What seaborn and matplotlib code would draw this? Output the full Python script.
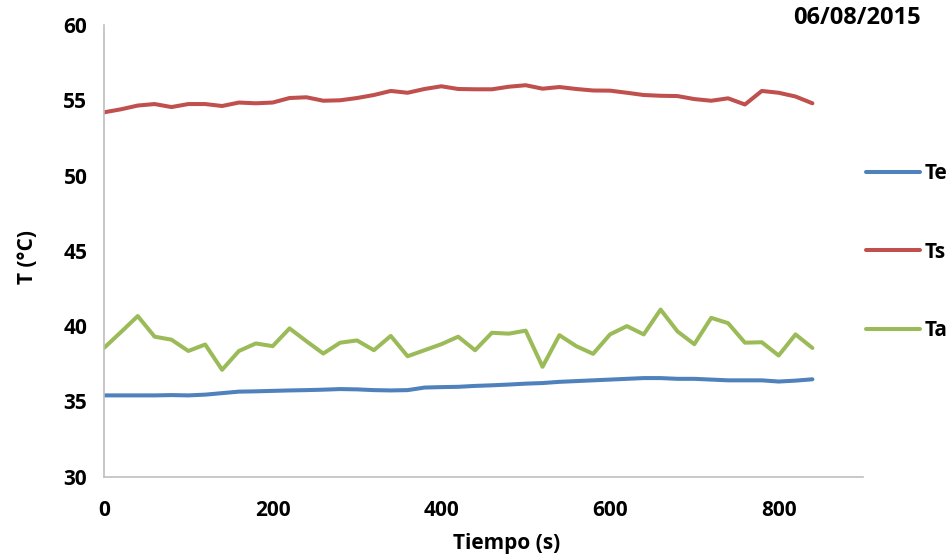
import numpy as np
import pandas as pd
import seaborn as sns
import matplotlib
matplotlib.use("Agg")
import matplotlib.pyplot as plt

# ---- data ----
tiempo = list(range(0, 841, 20))
te = [35.40, 35.40, 35.40, 35.40, 35.42, 35.40, 35.45, 35.55, 35.65, 35.67,
      35.70, 35.73, 35.75, 35.78, 35.82, 35.80, 35.75, 35.73, 35.75, 35.92,
      35.95, 35.97, 36.03, 36.07, 36.12, 36.18, 36.22, 36.30, 36.35, 36.40,
      36.45, 36.50, 36.55, 36.55, 36.50, 36.50, 36.45, 36.40, 36.40, 36.40,
      36.32, 36.38, 36.47]
ts = [54.20, 54.40, 54.65, 54.75, 54.55, 54.75, 54.75, 54.62, 54.85, 54.80,
      54.85, 55.15, 55.20, 54.97, 55.00, 55.15, 55.35, 55.62, 55.50, 55.75,
      55.93, 55.75, 55.73, 55.73, 55.90, 56.00, 55.77, 55.88, 55.75, 55.65,
      55.64, 55.50, 55.35, 55.30, 55.28, 55.08, 54.97, 55.13, 54.72, 55.62,
      55.50, 55.25, 54.80]
ta = [38.55, 39.60, 40.67, 39.30, 39.10, 38.35, 38.78, 37.10, 38.35, 38.85,
      38.67, 39.85, 39.00, 38.18, 38.90, 39.05, 38.40, 39.35, 38.00, 38.40,
      38.80, 39.30, 38.40, 39.56, 39.50, 39.70, 37.30, 39.40, 38.67, 38.16,
      39.45, 40.00, 39.45, 41.10, 39.65, 38.80, 40.55, 40.20, 38.90, 38.93,
      38.05, 39.45, 38.55]
series_names = ["Te", "Ts", "Ta"]
colors = {"Te": "#4F81BD", "Ts": "#C0504D", "Ta": "#9BBB59"}
xticks = [0, 200, 400, 600, 800]
yticks = [30, 35, 40, 45, 50, 55, 60]

df = pd.DataFrame({
    "Tiempo": tiempo * 3,
    "T": te + ts + ta,
    "Serie": ["Te"] * len(te) + ["Ts"] * len(ts) + ["Ta"] * len(ta),
})

sns.set_theme(style="white")
plt.rcParams["font.family"] = ["Open Sans", "DejaVu Sans"]
plt.rcParams["font.weight"] = "bold"
plt.rcParams["text.color"] = "black"
plt.rcParams["axes.labelcolor"] = "black"

fig = plt.figure(figsize=(9.53, 5.60), dpi=100)
ax = fig.add_axes([104 / 953, 1 - 476.7 / 560, (863 - 104) / 953, (476.7 - 25) / 560])

sns.lineplot(data=df, x="Tiempo", y="T", hue="Serie", hue_order=series_names,
             palette=colors, linewidth=2.9, sort=False, ax=ax, legend=True)

ax.set_xlim(0, 900)
ax.set_ylim(30, 60)
ax.set_xticks(xticks)
ax.set_yticks(yticks)
ax.tick_params(axis="y", length=6, width=1, color="#BFBFBF", pad=6,
               labelsize=15, labelcolor="black")
ax.tick_params(axis="x", length=0, pad=17, labelsize=15, labelcolor="black")
for lab in ax.get_xticklabels() + ax.get_yticklabels():
    lab.set_fontweight("bold")
for s in ["top", "right"]:
    ax.spines[s].set_visible(False)
for s in ["left", "bottom"]:
    ax.spines[s].set_color("#BFBFBF")
    ax.spines[s].set_linewidth(1.2)
ax.grid(False)

ax.set_xlabel("Tiempo (s)", fontsize=15, fontweight="bold")
ax.xaxis.set_label_coords((507 - 104) / (863 - 104), -(533 - 476.7) / (476.7 - 25))
ax.set_ylabel("T (°C)", fontsize=15, fontweight="bold")
ax.yaxis.set_label_coords(-(104 - 38) / (863 - 104), (476.7 - 257) / (476.7 - 25))

fig.text(857 / 953, 1 - 18 / 560, "06/08/2015", ha="center", va="center",
         fontsize=17, fontweight="bold")

handles, labels = ax.get_legend_handles_labels()
ax.legend(handles, labels, loc="center left", bbox_to_anchor=(866 / 953, 1 - 252 / 560),
          bbox_transform=fig.transFigure, frameon=False, handlelength=2.6,
          handletextpad=0.2, labelspacing=2.75, borderaxespad=0, borderpad=0,
          prop={"size": 15, "weight": "bold"})

fig.savefig("out.png", dpi=100, facecolor="white")
